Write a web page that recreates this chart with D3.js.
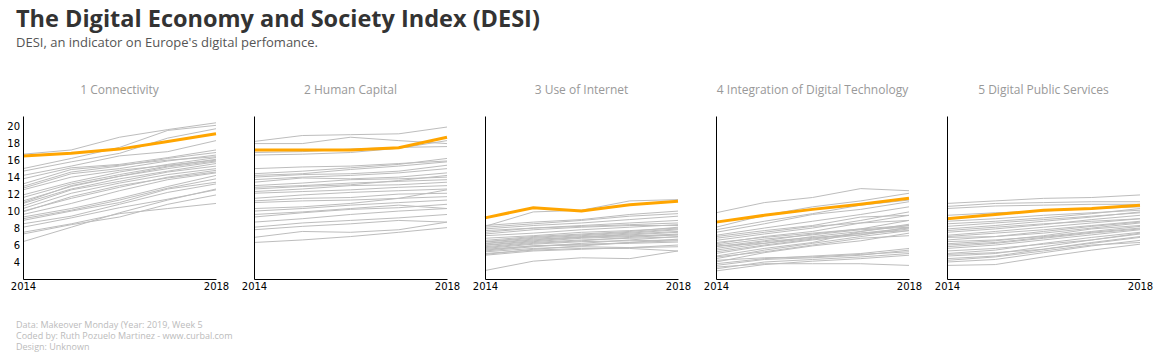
<!DOCTYPE html>
<html>
<head>
<meta charset="utf-8">
<script src="https://cdn.jsdelivr.net/npm/d3@7"></script>
<style>
  body { margin: 0; background: #fff; }
  text { font-family: "Open Sans", sans-serif; }
</style>
</head>
<body>
<div id="chart"></div>
<script>
// DESI small multiples, one panel per dimension

const years = [2014, 2015, 2016, 2017, 2018];
const yearTicks = [2014, 2018];
const valueTicks = [4, 6, 8, 10, 12, 14, 16, 18, 20];

const panelTitles = ["1 Connectivity", "2 Human Capital", "3 Use of Internet",
    "4 Integration of Digital Technology", "5 Digital Public Services"];

// the highlighted country, one row per dimension
const highlight = [
    [16.5, 16.8, 17.3, 18.2, 19.1],
    [17.2, 17.2, 17.2, 17.45, 18.7],
    [9.2, 10.4, 10.0, 10.75, 11.15],
    [8.7, 9.5, 10.2, 10.8, 11.5],
    [9.1, 9.6, 10.1, 10.3, 10.7]
];

// the other countries
const connectivity = [
    [16.7,17.2,18.7,19.6,20.4], [15.0,16.2,17.5,19.5,20.1], [14.7,15.8,16.8,18.6,19.7],
    [14.2,15.3,16.5,17.0,18.3], [13.8,15.1,15.5,16.3,17.2], [12.9,14.6,15.3,16.2,16.9],
    [12.7,14.4,15.0,15.9,16.6], [11.9,13.4,14.6,15.5,16.3], [11.6,13.2,14.3,15.3,16.1],
    [11.2,12.9,14.1,15.0,15.8], [10.9,12.6,13.8,14.7,15.6], [10.6,12.5,13.5,14.6,15.3],
    [10.3,12.1,13.3,14.3,15.0], [9.9,11.7,13.0,13.9,14.6], [9.3,10.3,11.5,12.9,14.2],
    [9.1,10.1,11.3,12.7,13.8], [8.9,10.0,11.0,12.6,13.4], [8.5,9.4,10.8,12.2,13.2],
    [8.1,9.2,10.4,11.4,12.5], [7.5,8.5,9.7,10.3,10.9], [7.3,8.4,9.3,10.8,11.9],
    [6.4,8.1,9.8,11.3,12.6], [12.5,14.0,14.8,15.4,16.0], [10.0,11.5,12.8,14.0,14.8],
    [9.6,10.9,12.4,13.7,14.5], [11.0,13.0,14.1,15.2,15.9], [13.2,14.9,15.4,16.0,16.4]
];
const humanCapital = [
    [18.2,18.9,19.0,19.1,19.9], [17.95,17.95,18.7,18.3,17.95], [16.9,17.0,17.3,17.5,17.6],
    [16.6,16.7,16.9,17.4,18.3], [14.4,14.7,15.1,15.5,16.2], [14.2,14.4,14.9,15.3,15.8],
    [14.0,14.3,14.4,14.7,15.4], [13.7,14.0,14.2,14.5,15.0], [13.4,13.9,13.8,14.0,14.5],
    [13.0,13.3,13.7,13.8,14.0], [12.8,13.0,13.3,13.5,13.7], [12.3,12.6,13.0,13.1,13.4],
    [12.1,12.3,12.5,12.8,13.0], [11.5,11.9,12.2,12.4,12.6], [11.2,11.5,11.6,12.0,12.1],
    [11.0,11.2,11.3,11.5,11.7], [10.3,10.5,10.9,11.5,12.5], [10.0,10.3,10.7,11.0,11.3],
    [9.3,9.8,10.2,10.4,10.8], [8.7,9.1,9.6,10.0,10.3], [8.1,8.6,8.9,9.2,9.6],
    [7.8,8.2,8.5,8.9,8.7], [6.9,7.6,7.5,7.8,8.7], [6.3,6.6,7.0,7.5,8.05],
    [15.0,15.2,15.3,15.6,15.9], [12.6,12.9,13.1,13.6,14.2], [9.6,9.9,10.3,10.7,10.3]
];
const useOfInternet = [
    [8.3,8.7,9.0,9.6,10.0], [8.1,8.5,8.9,9.4,9.7], [7.9,8.3,8.6,9.0,9.4],
    [7.7,8.0,8.2,8.4,8.6], [7.3,7.8,8.1,8.3,8.3], [6.55,7.0,7.3,7.6,8.1],
    [6.35,6.8,7.1,7.4,7.8], [6.15,6.6,7.0,7.2,7.5], [5.95,6.4,6.8,7.0,7.3],
    [5.8,6.3,6.6,6.8,6.95], [5.6,6.1,6.4,6.5,6.6], [5.4,5.9,6.1,6.2,6.35],
    [5.2,5.6,5.8,5.7,5.8], [5.0,5.4,5.6,5.6,5.3], [4.8,5.3,5.5,5.7,6.0],
    [3.0,4.1,4.5,4.4,5.3], [6.0,6.5,6.9,7.3,7.6], [6.4,6.9,7.2,7.5,7.9],
    [5.7,6.2,6.5,6.9,7.2], [7.5,8.0,8.3,8.6,8.9], [8.2,9.9,10.1,11.2,11.35],
    [6.8,7.1,7.5,7.7,8.0], [5.3,5.8,6.2,6.6,7.0], [6.2,6.7,6.9,7.1,7.2],
    [7.1,7.4,7.8,8.1,8.4], [5.5,5.9,6.0,6.3,6.7], [4.9,5.5,5.9,6.3,6.5]
];
const integration = [
    [9.8,11.0,11.6,12.65,12.4], [8.1,9.5,10.5,11.2,12.1], [7.5,8.5,9.6,10.2,11.1],
    [7.15,8.0,8.8,9.6,10.5], [6.55,7.3,8.0,8.9,9.9], [6.15,7.0,7.6,8.6,9.5],
    [5.8,6.5,7.3,7.9,8.9], [5.4,6.2,7.0,7.6,8.45], [5.0,5.9,6.6,7.2,8.1],
    [4.4,5.4,6.2,7.0,7.7], [4.0,5.1,5.9,6.5,7.4], [3.6,4.3,4.5,4.8,5.4],
    [3.2,4.0,4.3,4.6,5.0], [2.95,3.7,4.1,4.4,4.8], [3.4,3.8,3.8,3.8,3.6],
    [6.8,7.5,8.2,8.6,8.9], [6.3,6.9,7.4,7.9,8.3], [5.6,6.4,6.9,7.2,7.9],
    [5.2,6.0,6.7,7.4,8.0], [4.7,5.6,6.3,7.6,8.3], [7.0,7.7,8.3,9.3,9.5],
    [6.0,6.7,7.2,7.8,8.1], [4.2,4.5,4.6,4.9,5.2], [3.8,4.4,4.7,5.0,5.6],
    [5.9,6.2,6.8,7.4,7.7], [7.8,8.8,9.7,10.7,11.3], [4.6,5.2,6.0,6.8,7.1]
];
const publicServices = [
    [10.9,11.2,11.5,11.6,11.9], [10.55,10.9,11.0,11.1,11.1], [10.3,10.6,10.7,10.8,10.8],
    [8.5,8.8,9.2,9.7,10.3], [7.9,8.3,8.8,9.3,9.9], [7.5,7.9,8.4,9.0,9.5],
    [7.15,7.6,8.1,8.6,9.1], [6.6,7.0,7.6,8.2,8.7], [6.15,6.5,7.1,7.9,8.3],
    [5.8,6.2,6.8,7.4,7.9], [5.0,5.4,6.2,6.9,7.5], [4.4,4.7,5.5,6.3,7.0],
    [4.0,4.3,5.1,5.9,6.55], [3.6,3.7,4.6,5.4,6.1], [8.8,9.1,9.5,9.8,10.1],
    [8.2,8.6,9.0,9.4,9.8], [7.7,8.1,8.5,8.8,9.1], [7.0,7.4,7.8,8.3,8.8],
    [6.9,7.0,7.4,8.0,8.6], [6.4,6.6,7.0,7.6,8.2], [5.6,6.0,6.6,7.2,7.8],
    [5.3,5.6,6.1,6.6,7.3], [4.7,5.0,5.8,6.6,7.4], [4.9,5.1,5.5,6.2,6.9],
    [9.5,9.8,10.0,10.3,10.5], [6.0,6.3,6.9,7.5,8.0], [4.2,4.6,5.3,6.0,6.3]
];
const others = [connectivity, humanCapital, useOfInternet, integration, publicServices];

const footerLines = ["Data: Makeover Monday (Year: 2019, Week 5",
    "Coded by: Ruth Pozuelo Martinez - www.curbal.com",
    "Design: Unknown"];

var svg = d3.select("#chart").append("svg")
    .attr("width", 1159)
    .attr("height", 358);

// Title and subtitle
svg.append("text")
    .attr("x", 16)
    .attr("y", 27)
    .attr("font-size", "23.5px")
    .attr("font-weight", "bold")
    .attr("fill", "#333")
    .text("The Digital Economy and Society Index (DESI)");

svg.append("text")
    .attr("x", 16)
    .attr("y", 47)
    .attr("font-size", "13px")
    .attr("fill", "#555")
    .text("DESI, an indicator on Europe's digital perfomance.");

// Panel geometry
const panelWidth = 193;
const panelStep = 231;
const plotTop = 116;
const plotBottom = 279;

var xScale = d3.scaleLinear().domain([2014, 2018]).range([0, panelWidth]);
var yScale = d3.scaleLinear().domain([2, 21.2]).range([plotBottom - plotTop, 0]);

var line = d3.line()
    .x(function(d, i) { return xScale(years[i]); })
    .y(function(d) { return yScale(d); });

panelTitles.forEach(function(title, p) {
    var g = svg.append("g")
        .attr("transform", "translate(" + (23 + p * panelStep) + "," + plotTop + ")");

    g.append("text")
        .attr("x", panelWidth / 2)
        .attr("y", -22)
        .attr("text-anchor", "middle")
        .attr("font-size", "12px")
        .attr("fill", "#999")
        .text(title);

    // grey countries first, highlighted one on top
    g.selectAll(".country")
        .data(others[p])
        .enter()
        .append("path")
        .attr("class", "country")
        .attr("d", line)
        .attr("fill", "none")
        .attr("stroke", "#bdbdbd")
        .attr("stroke-width", 1);

    g.append("path")
        .datum(highlight[p])
        .attr("d", line)
        .attr("fill", "none")
        .attr("stroke", "#ffa500")
        .attr("stroke-width", 3);

    // x axis
    var xAxis = g.append("g")
        .attr("transform", "translate(0," + (plotBottom - plotTop) + ")")
        .call(d3.axisBottom(xScale).tickValues(yearTicks).tickFormat(d3.format("d"))
            .tickSize(0).tickSizeOuter(0).tickPadding(4));

    // y axis, labels only on the first panel
    var yAxis = g.append("g")
        .call(d3.axisLeft(yScale).tickValues(p == 0 ? valueTicks : [])
            .tickSize(0).tickSizeOuter(0).tickPadding(3));

    [xAxis, yAxis].forEach(function(a) {
        a.select(".domain").attr("stroke", "#000");
        a.selectAll("text")
            .style("font-family", "'DejaVu Sans', sans-serif")
            .style("font-size", "10px")
            .attr("fill", "#000");
    });
});

// Footer
svg.selectAll(".footer")
    .data(footerLines)
    .enter()
    .append("text")
    .attr("class", "footer")
    .attr("x", 16)
    .attr("y", function(d, i) { return 328 + i * 11; })
    .attr("font-size", "9px")
    .attr("fill", "#bbb")
    .text(function(d) { return d; });
</script>
</body>
</html>
